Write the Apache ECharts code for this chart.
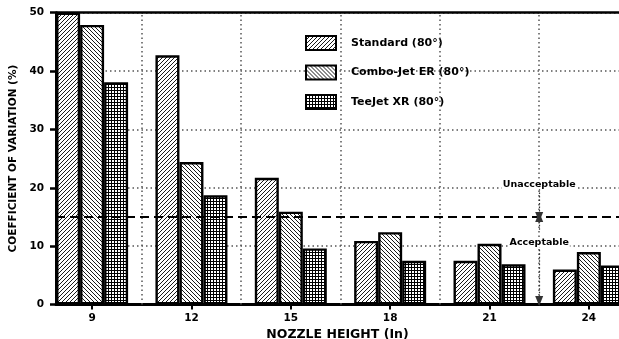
<!DOCTYPE html>
<html>
<head>
<meta charset="utf-8">
<script src="https://cdn.jsdelivr.net/npm/echarts@6/dist/echarts.min.js"></script>
<style>html,body{margin:0;padding:0;background:#fff}#c{width:619px;height:339px}</style>
</head>
<body>
<div id="c"></div>
<script>
// ---- data ----
const heights = [9, 12, 15, 18, 21, 24];
const seriesNames = ['Standard (80°)', 'Combo-Jet ER (80°)', 'TeeJet XR (80°)'];
const standard = [50, 42.7, 21.7, 10.9, 7.5, 6.0];
const comboJet = [47.9, 24.4, 15.9, 12.4, 10.4, 9.0];
const teeJet = [38.1, 18.7, 9.6, 7.5, 6.9, 6.7];
const yTicks = [0, 10, 20, 30, 40, 50];
const threshold = 15;
const annotX = 22.5;
const arrowSegments = [[19.8, 15], [12.8, 15], [10, 0.6]];
const annotLabels = [['Unacceptable', 20.6], ['Acceptable', 10.6]];

const dividers = heights.slice(0, -1).map((h, i) => (h + heights[i + 1]) / 2);

function makePattern(kind) {
  const c = document.createElement('canvas');
  const s = kind === 'grid' ? 3 : 4;
  c.width = s; c.height = s;
  const g = c.getContext('2d');
  g.fillStyle = '#fff'; g.fillRect(0, 0, s, s);
  g.fillStyle = '#000';
  if (kind === 'grid') {
    g.fillRect(0, 0, s, 1); g.fillRect(0, 0, 1, s);
  } else {
    g.strokeStyle = '#000'; g.lineWidth = 0.9;
    g.beginPath();
    if (kind === 'fwd') {
      g.moveTo(-1, s + 1); g.lineTo(s + 1, -1);
      g.moveTo(-1, 1); g.lineTo(1, -1);
      g.moveTo(s - 1, s + 1); g.lineTo(s + 1, s - 1);
    } else {
      g.moveTo(-1, -1); g.lineTo(s + 1, s + 1);
      g.moveTo(s - 1, -1); g.lineTo(s + 1, 1);
      g.moveTo(-1, s - 1); g.lineTo(1, s + 1);
    }
    g.stroke();
  }
  return { image: c, repeat: 'repeat' };
}
const fills = [makePattern('fwd'), makePattern('back'), makePattern('grid')];
const values = [standard, comboJet, teeJet];
const FONT = 'DejaVu Sans';

const chart = echarts.init(document.getElementById('c'), null, { renderer: 'canvas' });

const series = values.map((vals, i) => ({
  name: seriesNames[i],
  type: 'bar',
  barWidth: 24,
  barGap: '0%',
  data: vals.map((v, k) => [heights[k], v]),
  itemStyle: { color: fills[i], borderColor: '#000', borderWidth: 2.4 },
  z: 3
}));

// reference lines and annotations on a separate, data-less series
series.push({
  name: 'annotations',
  type: 'line',
  data: [],
  z: 5,
  markLine: {
    silent: true,
    symbol: 'none',
    animation: false,
    label: { show: false },
    data: [
      ...dividers.map(d => ({ xAxis: d, lineStyle: { type: [1.5, 3], color: '#555', width: 1.5 } })),
      { yAxis: threshold, lineStyle: { type: [9, 5], color: '#000', width: 2 } },
      { yAxis: yTicks[yTicks.length - 1], lineStyle: { type: 'solid', color: '#000', width: 2.5 } },
      ...arrowSegments.map(s => [
        { coord: [annotX, s[0]], symbol: 'none', lineStyle: { type: [1.5, 2], color: '#333', width: 1.2 } },
        { coord: [annotX, s[1]], symbol: 'triangle', symbolSize: [8, 10] }
      ])
    ]
  },
  markPoint: {
    silent: true,
    animation: false,
    symbol: 'rect',
    symbolSize: 0,
    data: annotLabels.map(a => ({
      coord: [annotX, a[1]],
      label: {
        show: true, formatter: a[0], position: 'inside',
        color: '#000', fontFamily: FONT, fontWeight: 'bold', fontSize: 9.5,
        backgroundColor: '#fff', padding: [0, 1]
      }
    }))
  }
});

chart.setOption({
  animation: false,
  backgroundColor: '#fff',
  grid: { left: 56, right: 0, top: 12.7, bottom: 34.5, outerBoundsMode: 'none', containLabel: false },
  legend: {
    orient: 'vertical',
    left: 300, top: 30,
    itemWidth: 30, itemHeight: 14, itemGap: 13.5,
    icon: 'rect',
    data: seriesNames,
    itemStyle: { borderColor: '#000', borderWidth: 2 },
    textStyle: { fontFamily: FONT, fontWeight: 'bold', fontSize: 11, color: '#000', padding: [0, 0, 0, 10] },
    selectedMode: false
  },
  xAxis: {
    type: 'value',
    min: 7.91, max: 24.91,
    name: 'NOZZLE HEIGHT (In)',
    nameLocation: 'middle',
    nameGap: 19,
    nameTextStyle: { fontFamily: FONT, fontWeight: 'bold', fontSize: 12.5, color: '#000', verticalAlign: 'top' },
    axisLine: { lineStyle: { color: '#000', width: 3 } },
    axisTick: { show: true, customValues: heights, length: 5, lineStyle: { color: '#000', width: 2 } },
    axisLabel: { customValues: heights, margin: 8, fontFamily: FONT, fontWeight: 'bold', fontSize: 10.5, color: '#000' },
    splitLine: { show: false }
  },
  yAxis: {
    type: 'value',
    min: 0, max: 50, interval: 10,
    name: 'COEFFICIENT OF VARIATION (%)',
    nameLocation: 'middle',
    nameGap: 33,
    nameTextStyle: { fontFamily: FONT, fontWeight: 'bold', fontSize: 10.5, color: '#000' },
    axisLine: { show: true, lineStyle: { color: '#000', width: 3 } },
    axisTick: { show: true, length: 6, lineStyle: { color: '#000', width: 2.5 } },
    axisLabel: { margin: 12, fontFamily: FONT, fontWeight: 'bold', fontSize: 10.5, color: '#000' },
    splitLine: { show: true, lineStyle: { type: [1.5, 3], color: '#555', width: 1.5 } }
  },
  series
});
</script>
</body>
</html>
